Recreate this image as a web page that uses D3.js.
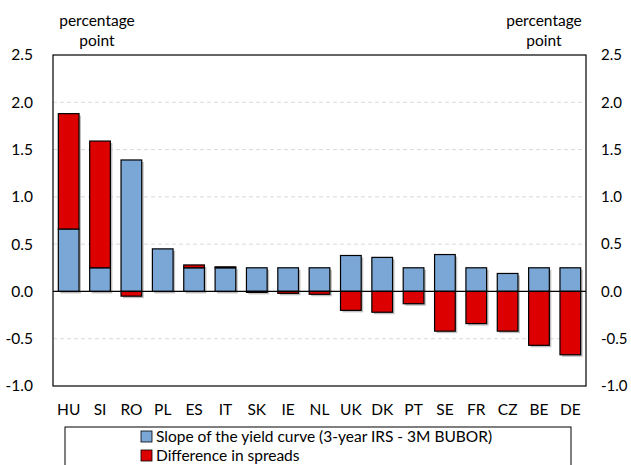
<!DOCTYPE html>
<html>
<head>
<meta charset="utf-8">
<script src="https://cdn.jsdelivr.net/npm/d3@7"></script>
<style>
  body { margin: 0; background: #fff; }
  text { font-family: Lato, "Open Sans", sans-serif; fill: #000; }
</style>
</head>
<body>
<svg id="chart" width="631" height="465"></svg>
<script>
var countries = ["HU", "SI", "RO", "PL", "ES", "IT", "SK", "IE", "NL", "UK", "DK", "PT", "SE", "FR", "CZ", "BE", "DE"];
var slope = [0.66, 0.25, 1.39, 0.45, 0.25, 0.25, 0.25, 0.25, 0.25, 0.38, 0.36, 0.25, 0.39, 0.25, 0.19, 0.25, 0.25];
var spread = [1.22, 1.34, -0.05, 0, 0.03, 0.01, -0.01, -0.02, -0.03, -0.2, -0.22, -0.13, -0.42, -0.34, -0.42, -0.57, -0.67];
var yTicks = [-1.0, -0.5, 0.0, 0.5, 1.0, 1.5, 2.0, 2.5];
var seriesNames = ["Slope of the yield curve (3-year IRS - 3M BUBOR)", "Difference in spreads"];
var seriesColors = ["#7BA7D7", "#DD0000"];

var svg = d3.select("#chart");
var plotL = 53, plotR = 586, plotT = 55, plotB = 386;
var fs = 15.5;

var x = d3.scaleBand().domain(countries).range([plotL, plotR]).paddingInner(0.34).paddingOuter(0.17);
var y = d3.scaleLinear().domain([-1, 2.5]).range([plotB, plotT]);

// gridlines
svg.append("g").selectAll("line")
  .data(yTicks.filter(function(d) { return d != 0 && d != 2.5 && d != -1; }))
  .enter().append("line")
    .attr("x1", plotL).attr("x2", plotR)
    .attr("y1", function(d) { return y(d); }).attr("y2", function(d) { return y(d); })
    .attr("stroke", "#d9d9d9").attr("stroke-dasharray", "4,3");

// stacked segments: slope from 0, spread on top if positive, below 0 if negative
var segs = [];
countries.forEach(function(c, i) {
  segs.push({c: c, y0: 0, y1: slope[i], s: 0});
  if (spread[i] > 0) segs.push({c: c, y0: slope[i], y1: slope[i] + spread[i], s: 1});
  else if (spread[i] < 0) segs.push({c: c, y0: 0, y1: spread[i], s: 1});
});

// shadow
svg.append("g").selectAll("rect")
  .data(segs).enter().append("rect")
    .attr("x", function(d) { return x(d.c) + 2; })
    .attr("y", function(d) { return Math.min(y(d.y0), y(d.y1)) + 2; })
    .attr("width", x.bandwidth())
    .attr("height", function(d) { return Math.abs(y(d.y0) - y(d.y1)); })
    .attr("fill", "#8c8c8c").attr("opacity", 0.55);

svg.append("g").selectAll("rect")
  .data(segs).enter().append("rect")
    .attr("x", function(d) { return x(d.c); })
    .attr("y", function(d) { return Math.min(y(d.y0), y(d.y1)); })
    .attr("width", x.bandwidth())
    .attr("height", function(d) { return Math.abs(y(d.y0) - y(d.y1)); })
    .attr("fill", function(d) { return seriesColors[d.s]; })
    .attr("stroke", "#000").attr("stroke-width", 1.2);

// zero line
svg.append("line")
  .attr("x1", plotL).attr("x2", plotR).attr("y1", y(0)).attr("y2", y(0))
  .attr("stroke", "#000").attr("stroke-width", 1.2);

// frame
svg.append("rect")
  .attr("x", plotL).attr("y", plotT).attr("width", plotR - plotL).attr("height", plotB - plotT)
  .attr("fill", "none").attr("stroke", "#000").attr("stroke-width", 1.2);

// axes (plain hyphen for negatives, like the original)
var fmt = function(d) { return d3.format(".1f")(d).replace("\u2212", "-"); };
var yl = svg.append("g").attr("transform", "translate(" + (plotL - 17) + ",0)")
  .call(d3.axisLeft(y).tickValues(yTicks).tickSize(0).tickFormat(fmt));
var yr = svg.append("g").attr("transform", "translate(" + (plotR + 12) + ",0)")
  .call(d3.axisRight(y).tickValues(yTicks).tickSize(0).tickFormat(fmt));
var xa = svg.append("g").attr("transform", "translate(0," + (plotB + 15) + ")")
  .call(d3.axisBottom(x).tickSize(0));
[yl, yr, xa].forEach(function(g) {
  g.select(".domain").remove();
  g.selectAll("text").attr("font-size", fs).attr("font-family", "Lato, sans-serif").attr("fill", "#000");
});
yr.selectAll("text").attr("font-size", 15);

// unit labels
[97, 544].forEach(function(px) {
  var t = svg.append("text").attr("x", px).attr("y", 26).attr("text-anchor", "middle").attr("font-size", fs);
  t.append("tspan").attr("x", px).text("percentage");
  t.append("tspan").attr("x", px).attr("dy", 20).text("point");
});

// legend
svg.append("rect")
  .attr("x", 65).attr("y", 427).attr("width", 506).attr("height", 50)
  .attr("fill", "#fff").attr("stroke", "#000").attr("stroke-width", 1);
var lg = svg.append("g").selectAll("g").data(seriesNames).enter().append("g")
  .attr("transform", function(d, i) { return "translate(141," + (431 + i * 19) + ")"; });
lg.append("rect").attr("width", 11).attr("height", 11)
  .attr("fill", function(d, i) { return seriesColors[i]; })
  .attr("stroke", "#000").attr("stroke-width", 0.8);
lg.append("text").attr("x", 15).attr("y", 11).attr("font-size", fs).text(function(d) { return d; });
</script>
</body>
</html>
